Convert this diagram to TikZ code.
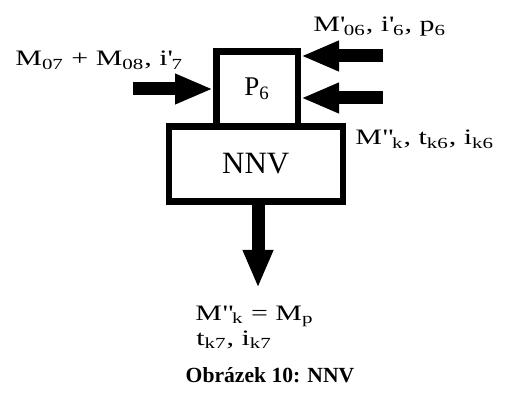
\documentclass[tikz,border=0pt]{standalone}
\usepackage{fontspec}
\setmainfont{Liberation Serif}
\newfontfamily\lblfont[FakeStretch=1.36]{Liberation Serif}
\usetikzlibrary{arrows.meta, positioning}

\newcommand{\sq}{\textquotesingle}
\newcommand{\dq}{\textquotedbl\kern0.6pt}

\begin{document}
\begin{tikzpicture}[
    x=0.5pt, y=-0.5pt,
    box/.style={
        draw=black,
        line width=3.25pt,
        rectangle,
        inner sep=0pt
    },
    flow/.style={draw=black, line width=6.5pt, -{Triangle[length=19pt, width=14pt]}},
    lbl/.style={font=\lblfont\fontsize{11}{13}\selectfont, inner sep=0pt, anchor=base west}
]
\useasboundingbox (0,0) rectangle (512,394);

\node[box, minimum width=40.75pt, minimum height=37.5pt, font=\fontsize{13.5}{15}\selectfont] (P6) at (257,89) {P\textsubscript{6}};
\node[box, minimum width=87pt, minimum height=37.5pt, font=\fontsize{15.5}{17}\selectfont] (NNV) at (255.75,164) {NNV};

% vstupy a vystup
\coordinate (in7) at (133,89);
\coordinate (in6) at (383,56);
\coordinate (ink) at (383,98);
\coordinate (out) at (258,288);

\draw[flow] (in7) -- (P6.west);
\draw[flow] (in6) -- (in6 -| P6.east);
\draw[flow] (ink) -- (ink -| P6.east);
\draw[flow] (out |- NNV.south) -- (out);

\node[lbl] (l7) at (15,66) {M\textsubscript{07} + M\textsubscript{08}, i\sq\textsubscript{7}};
\node[lbl] (l6) at (313,32) {M\sq\textsubscript{06}, i\sq\textsubscript{6}, p\textsubscript{6}};
\node[lbl] (lk) at (355,145) {M\dq\textsubscript{k}, t\textsubscript{k6}, i\textsubscript{k6}};
\node[lbl] (lp) at (195,320) {M\dq\textsubscript{k} = M\textsubscript{p}};
\node[lbl] (lt) at (196,345) {t\textsubscript{k7}, i\textsubscript{k7}};

\node[lbl, anchor=base, font=\fontsize{10.8}{13}\selectfont\bfseries] (cap) at (270,382) {Obrázek 10: NNV};
\end{tikzpicture}
\end{document}
